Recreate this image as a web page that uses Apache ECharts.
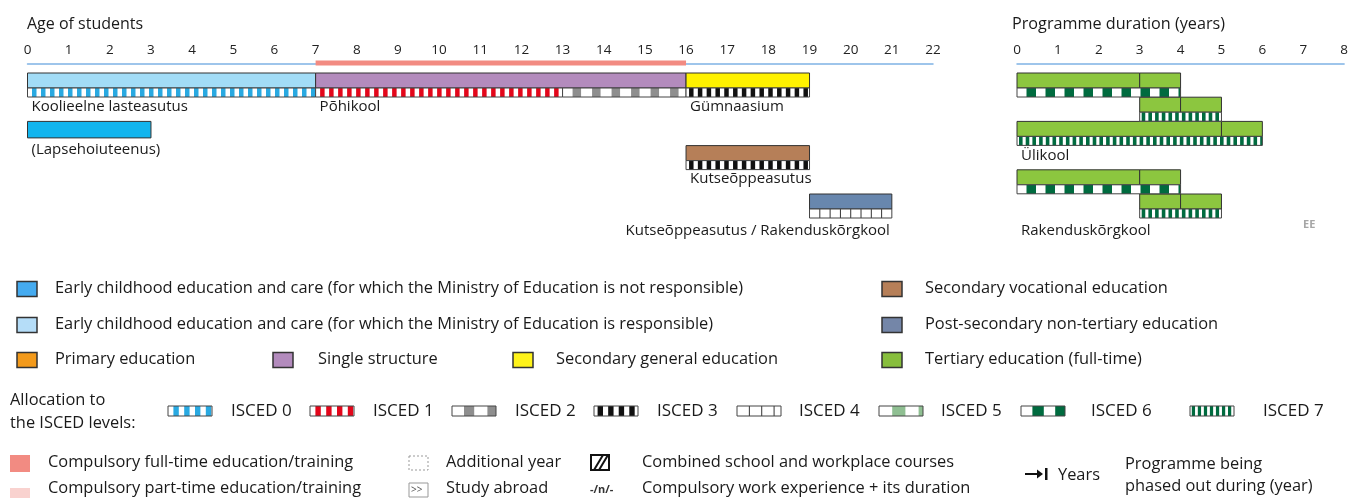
<!DOCTYPE html>
<html><head><meta charset="utf-8">
<script src="https://cdn.jsdelivr.net/npm/echarts/dist/echarts.min.js"></script>
<style>html,body{margin:0;padding:0;background:#fff}#c{width:1351px;height:498px}</style>
</head><body><div id="c"></div>
<script>
// ---------------- DATA ----------------
// Left panel: programmes by age of students
const progNames  = ['Koolieelne lasteasutus', 'Põhikool', 'Gümnaasium', '(Lapsehoiuteenus)', 'Kutseõppeasutus', 'Kutseõppeasutus / Rakenduskõrgkool'];
const progStart  = [0, 7, 16, 0, 16, 19];
const progEnd    = [7, 16, 19, 3, 19, 21];
const progRow    = [0, 0, 0, 2, 3, 5];
const progType   = ['eceResp', 'single', 'secGen', 'eceNotResp', 'secVoc', 'postSec'];
// ISCED allocation strips (left panel)
const iscedStart = [0, 7, 13, 16, 16, 19];
const iscedEnd   = [7, 13, 16, 19, 19, 21];
const iscedLevel = [0, 1, 2, 3, 3, 4];
const iscedRow   = [0, 0, 0, 0, 3, 5];
// Compulsory full-time education (ages)
const compulsoryStart = [7];
const compulsoryEnd   = [16];
// Right panel: tertiary programme durations (years)
const tertStart = [0, 3, 3, 4, 0, 5, 0, 3, 3, 4];
const tertEnd   = [3, 4, 4, 5, 5, 6, 3, 4, 4, 5];
const tertRow   = [0, 0, 1, 1, 2, 2, 4, 4, 5, 5];
const tertIscedStart = [0, 3, 0, 0, 3];
const tertIscedEnd   = [4, 5, 6, 4, 5];
const tertIscedLevel = [6, 7, 7, 6, 7];
const tertIscedRow   = [0, 1, 2, 4, 5];
const tertNames    = ['Ülikool', 'Rakenduskõrgkool'];
const tertNameRow  = [2, 5];
const tertNameAt   = [0, 0];
// Axis ranges
const ageMax = 22;
const durMax = 8;

// ---------------- STYLE ----------------
const FONT = '"Open Sans", "Noto Sans", sans-serif';
const TXT = '#1a1a1a';
const COLORS = {
  eceNotResp: '#12b5ee', eceResp: '#a2dcf6', primary: '#f39a1b', single: '#b38bbd',
  secGen: '#fff200', secVoc: '#b67f58', postSec: '#6887ae', tertiary: '#8cc63f'
};
const PAT = {
  0: {color: '#29a9e1', off: 4.5, cell: 4.5, period: 9},
  1: {color: '#e3061a', off: 4.5, cell: 4.5, period: 9},
  2: {color: '#8e8e8e', off: 10, cell: 8.5, period: 19.5},
  3: {color: '#111111', off: 3, cell: 4.5, period: 8.8},
  4: {lines: true, period: 10.3},
  5: {color: '#8fbf92', off: 11, cell: 11, period: 22},
  6: {color: '#006b3f', off: 9.5, cell: 9.5, period: 19},
  7: {color: '#006b3f', off: 2, cell: 3.6, period: 6.7}
};
const BAR_H = 15, STRIP_H = 9;
const ROW_PX = 24.2, AXIS_GAP = 9;

function stripChildren(x, y, w, h, level, scale) {
  scale = scale || 1;
  const p = PAT[level];
  const ch = [{type: 'rect', shape: {x: x, y: y, width: w, height: h}, style: {fill: '#fff'}}];
  if (p.lines) {
    for (let cx = x + p.period * scale; cx < x + w - 1; cx += p.period * scale) {
      ch.push({type: 'line', shape: {x1: cx, y1: y, x2: cx, y2: y + h}, style: {stroke: '#333', lineWidth: 1}});
    }
  } else {
    for (let cx = x + p.off * scale; cx < x + w; cx += p.period * scale) {
      const cw = Math.min(p.cell * scale, x + w - cx);
      if (cw > 0) ch.push({type: 'rect', shape: {x: cx, y: y, width: cw, height: h}, style: {fill: p.color}});
    }
  }
  ch.push({type: 'rect', shape: {x: x, y: y, width: w, height: h}, style: {fill: 'none', stroke: '#444', lineWidth: 1}});
  return ch;
}

// ---------------- SERIES DATA ----------------
const progData = progStart.map((s, i) => [s, progEnd[i], progRow[i], i]);
const iscedData = iscedStart.map((s, i) => [s, iscedEnd[i], iscedRow[i], iscedLevel[i]]);
const compData = compulsoryStart.map((s, i) => [s, compulsoryEnd[i], 0]);
const tertData = tertStart.map((s, i) => [s, tertEnd[i], tertRow[i]]);
const tertIscedData = tertIscedStart.map((s, i) => [s, tertIscedEnd[i], tertIscedRow[i], tertIscedLevel[i]]);
const tertLabelData = tertNames.map((n, i) => [tertNameAt[i], tertNameRow[i], i]);

function hasStrip(row, rows) { return rows.indexOf(row) >= 0; }
const LBL_FONT = '15px ' + FONT;

const progSeries = {
  type: 'custom', xAxisIndex: 0, yAxisIndex: 0, clip: false, z: 3,
  encode: {x: [0, 1], y: 2},
  data: progData,
  renderItem: function (params, api) {
    const s = api.value(0), e = api.value(1), row = api.value(2), i = api.value(3);
    const p0 = api.coord([s, row]), p1 = api.coord([e, row]);
    const strip = hasStrip(row, iscedRow);
    const h = strip ? BAR_H : 16.5;
    const children = [{type: 'rect', shape: {x: p0[0], y: p0[1], width: p1[0] - p0[0], height: h},
      style: {fill: COLORS[progType[i]], stroke: '#333', lineWidth: 1}}];
    const below = p0[1] + h + (strip ? STRIP_H : 0);
    const right = (row === 5);
    children.push({type: 'text', style: {
      text: progNames[i], x: right ? p1[0] - 2 : p0[0] + 4, y: below + (row === 5 ? 12.5 : (strip ? 9.5 : 11.5)),
      textAlign: right ? 'right' : 'left', textVerticalAlign: 'middle',
      font: LBL_FONT, fill: TXT}});
    return {type: 'group', children: children};
  }
};

const iscedSeries = {
  type: 'custom', xAxisIndex: 0, yAxisIndex: 0, clip: false, z: 4,
  encode: {x: [0, 1], y: 2},
  data: iscedData,
  renderItem: function (params, api) {
    const s = api.value(0), e = api.value(1), row = api.value(2), lvl = api.value(3);
    const p0 = api.coord([s, row]), p1 = api.coord([e, row]);
    return {type: 'group', children: stripChildren(p0[0], p0[1] + BAR_H, p1[0] - p0[0], STRIP_H, lvl)};
  }
};

const compSeries = {
  type: 'custom', xAxisIndex: 0, yAxisIndex: 0, clip: false, z: 5,
  encode: {x: [0, 1], y: 2},
  data: compData,
  renderItem: function (params, api) {
    const p0 = api.coord([api.value(0), api.value(2)]), p1 = api.coord([api.value(1), api.value(2)]);
    return {type: 'rect', shape: {x: p0[0], y: p0[1] - AXIS_GAP - 3.5, width: p1[0] - p0[0], height: 5}, style: {fill: '#f28b82'}};
  }
};

const tertSeries = {
  type: 'custom', xAxisIndex: 1, yAxisIndex: 1, clip: false, z: 3,
  encode: {x: [0, 1], y: 2},
  data: tertData,
  renderItem: function (params, api) {
    const p0 = api.coord([api.value(0), api.value(2)]), p1 = api.coord([api.value(1), api.value(2)]);
    return {type: 'rect', shape: {x: p0[0], y: p0[1], width: p1[0] - p0[0], height: BAR_H},
      style: {fill: COLORS.tertiary, stroke: '#333', lineWidth: 1}};
  }
};

const tertIscedSeries = {
  type: 'custom', xAxisIndex: 1, yAxisIndex: 1, clip: false, z: 4,
  encode: {x: [0, 1], y: 2},
  data: tertIscedData,
  renderItem: function (params, api) {
    const p0 = api.coord([api.value(0), api.value(2)]), p1 = api.coord([api.value(1), api.value(2)]);
    return {type: 'group', children: stripChildren(p0[0], p0[1] + BAR_H, p1[0] - p0[0], STRIP_H, api.value(3))};
  }
};

const tertLabelSeries = {
  type: 'custom', xAxisIndex: 1, yAxisIndex: 1, clip: false, z: 4,
  encode: {x: 0, y: 1},
  data: tertLabelData,
  renderItem: function (params, api) {
    const row = api.value(1);
    const p = api.coord([api.value(0), row]);
    return {type: 'text', style: {text: tertNames[api.value(2)], x: p[0] + 4,
      y: p[1] + BAR_H + STRIP_H + (row === 5 ? 12.5 : 10.5), textVerticalAlign: 'middle',
      font: LBL_FONT, fill: TXT}};
  }
};

// ---------------- LEGEND (graphic) ----------------
const LF = '16.4px ' + FONT;
const g = [];
function txt(t, x, y, font, fill) {
  g.push({type: 'text', x: x, y: y, style: {text: t, font: font || LF, fill: fill || TXT, textVerticalAlign: 'middle'}});
}
function sq(x, y, color, w, h, stroke) {
  g.push({type: 'rect', shape: {x: x, y: y, width: w || 20, height: h || 15}, style: {fill: color, stroke: stroke || '#333', lineWidth: 1.5}});
}
txt('Age of students', 27, 24, '16px ' + FONT);
txt('Programme duration (years)', 1012, 24, '16.2px ' + FONT);
g.push({type: 'text', x: 1303, y: 225, style: {text: 'EE', font: 'bold 11px ' + FONT, fill: '#a6a6a6', textVerticalAlign: 'middle'}});

const legendItems = [
  ['Early childhood education and care (for which the Ministry of Education is not responsible)', '#45abf0', 17, 55, 289],
  ['Early childhood education and care (for which the Ministry of Education is responsible)', '#b5ddf8', 17, 55, 325],
  ['Primary education', COLORS.primary, 17, 55, 360],
  ['Single structure', COLORS.single, 273, 318, 360],
  ['Secondary general education', '#fff31a', 513, 556, 360],
  ['Secondary vocational education', COLORS.secVoc, 882, 925, 289],
  ['Post-secondary non-tertiary education', '#7486a8', 882, 925, 325],
  ['Tertiary education (full-time)', '#87be3c', 882, 925, 360]
];
legendItems.forEach(function (it) {
  sq(it[2], it[4] - 7.5, it[1]);
  txt(it[0], it[3], it[4] - 0.5);
});

txt('Allocation to', 10, 400);
txt('the ISCED levels:', 10, 423);
const swX = [168, 310, 452, 594, 737, 879, 1021, 1190];
const swT = [231, 373, 515, 657, 799, 941, 1091, 1263];
swX.forEach(function (x, lvl) {
  g.push({type: 'group', children: stripChildren(x, 406, 44, 10, lvl, lvl === 7 ? 0.9 : 1.2)});
  txt('ISCED ' + lvl, swT[lvl], 411, '17px ' + FONT);
});

// bottom legend row
sq(10, 455, '#f28b82', 20, 17, 'none');
txt('Compulsory full-time education/training', 48, 462);
sq(10, 488, '#f9d2cf', 20, 17, 'none');
txt('Compulsory part-time education/training', 48, 488);
g.push({type: 'rect', shape: {x: 409, y: 456, width: 19, height: 14}, style: {fill: 'none', stroke: '#999', lineWidth: 1, lineDash: [2, 2]}});
txt('Additional year', 446, 462);
g.push({type: 'rect', shape: {x: 409, y: 483, width: 19, height: 14}, style: {fill: 'none', stroke: '#999', lineWidth: 1}});
g.push({type: 'text', x: 411, y: 490, style: {text: '>>', font: '10px ' + FONT, fill: '#555', textVerticalAlign: 'middle'}});
txt('Study abroad', 446, 488);
g.push({type: 'rect', shape: {x: 591, y: 455, width: 18, height: 15}, style: {fill: '#fff', stroke: '#111', lineWidth: 2}});
g.push({type: 'line', shape: {x1: 594, y1: 470, x2: 603, y2: 455}, style: {stroke: '#111', lineWidth: 2}});
g.push({type: 'line', shape: {x1: 599, y1: 470, x2: 608, y2: 455}, style: {stroke: '#111', lineWidth: 2}});
txt('Combined school and workplace courses', 642, 462);
g.push({type: 'text', x: 590, y: 490, style: {text: '-/n/-', font: 'bold 11px ' + FONT, fill: '#333', textVerticalAlign: 'middle'}});
txt('Compulsory work experience + its duration', 642, 488);
g.push({type: 'line', shape: {x1: 1025, y1: 474, x2: 1040, y2: 474}, style: {stroke: '#111', lineWidth: 2}});
g.push({type: 'polygon', shape: {points: [[1037, 469.5], [1043, 474], [1037, 478.5]]}, style: {fill: '#111'}});
g.push({type: 'rect', shape: {x: 1045, y: 468, width: 2.5, height: 12}, style: {fill: '#111'}});
txt('Years', 1058, 475);
txt('Programme being', 1125, 464);
txt('phased out during (year)', 1125, 486);

// ---------------- CHART ----------------
const yMin = -AXIS_GAP / ROW_PX;
const axisCommon = {
  type: 'value', position: 'top', interval: 1,
  axisLine: {show: true, onZero: false, lineStyle: {color: '#7fb2e5', width: 1.5}},
  axisTick: {show: false}, splitLine: {show: false},
  axisLabel: {margin: 7, fontSize: 13.5, color: '#222', fontFamily: FONT}
};
const chart = echarts.init(document.getElementById('c'), null, {renderer: 'canvas'});
chart.setOption({
  animation: false,
  grid: [
    {left: 27.5, width: 905.5, top: 73 - AXIS_GAP, height: (6 - yMin) * ROW_PX},
    {left: 1017, width: 329, top: 73 - AXIS_GAP, height: (6 - yMin) * ROW_PX}
  ],
  xAxis: [
    Object.assign({}, axisCommon, {gridIndex: 0, min: 0, max: ageMax}),
    Object.assign({}, axisCommon, {gridIndex: 1, min: 0, max: durMax})
  ],
  yAxis: [
    {gridIndex: 0, type: 'value', min: yMin, max: 6, inverse: true, show: false},
    {gridIndex: 1, type: 'value', min: yMin, max: 6, inverse: true, show: false}
  ],
  graphic: {elements: g},
  series: [progSeries, iscedSeries, compSeries, tertSeries, tertIscedSeries, tertLabelSeries]
});
</script></body></html>
